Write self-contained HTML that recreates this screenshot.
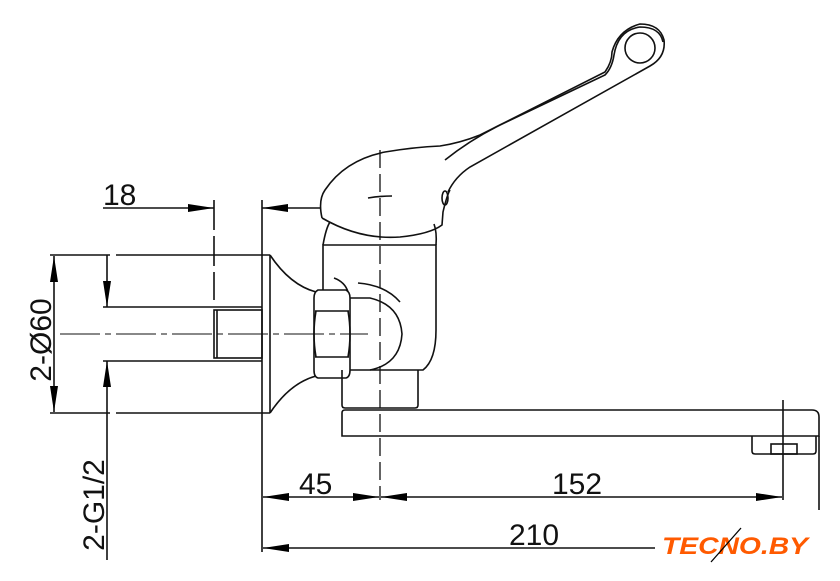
<!DOCTYPE html>
<html><head><meta charset="utf-8"><style>
html,body{margin:0;padding:0;background:#fff;}
svg{display:block}
text{font-family:"Liberation Sans",sans-serif;fill:#111}
</style></head><body>
<svg width="840" height="581" viewBox="0 0 840 581" xmlns="http://www.w3.org/2000/svg">
<defs>
<marker id="a" viewBox="0 0 26 8" refX="26" refY="4" markerWidth="26" markerHeight="8" markerUnits="userSpaceOnUse" orient="auto"><path d="M0,0 L26,4 L0,8 Z" fill="#000"/></marker>
</defs>
<g fill="none" stroke="#111" stroke-width="1.6">
<line x1="262" y1="200" x2="262" y2="552"/>
<line x1="214" y1="200" x2="214" y2="300" stroke-dasharray="30,6"/>
<line x1="103" y1="208" x2="214" y2="208" marker-end="url(#a)"/>
<line x1="320" y1="208" x2="262" y2="208" marker-end="url(#a)"/>
<line x1="50" y1="255" x2="270" y2="255" stroke-dasharray="60,6,220,0"/>
<line x1="50" y1="413" x2="270" y2="413" stroke-dasharray="60,6,220,0"/>
<line x1="103" y1="307" x2="262" y2="307"/>
<line x1="103" y1="361" x2="262" y2="361"/>
<rect x="214" y="310" width="48" height="48"/>
<line x1="217" y1="310" x2="217" y2="358"/>
<line x1="60" y1="334" x2="368" y2="334" stroke-dasharray="40,5,6,5" stroke-width="1.1"/>
<line x1="54" y1="334" x2="54" y2="256" marker-end="url(#a)"/>
<line x1="54" y1="334" x2="54" y2="412" marker-end="url(#a)"/>
<line x1="107" y1="255" x2="107" y2="307" marker-end="url(#a)"/>
<line x1="107" y1="560" x2="107" y2="361" marker-end="url(#a)"/>
<path d="M270,255 L270,413"/>
<path d="M270,255 Q290,285 316,292"/>
<path d="M270,413 Q290,383 316,376"/>
<path d="M318,290 L346,290 Q350,292 350,298 L350,370 Q350,377 346,378 L318,378 Q314,377 314,370 L314,298 Q314,292 318,290 Z"/>
<line x1="315" y1="311" x2="349" y2="311"/>
<line x1="315" y1="357" x2="349" y2="357"/>
<path d="M316,311 Q312,334 316,357 M348,311 Q352,334 348,357"/>
<path d="M350,370 L423,370 Q436,360 436,330 L436,245 L323,245 L323,290"/>
<path d="M323,245 Q326,228 330,222"/>
<path d="M436,245 Q437,232 434,224"/>
<path d="M350,298 L370,298 Q400,305 402,334 Q400,364 370,370"/>
<path d="M334,278 Q345,282 348,292"/>
<path d="M358,283 Q385,285 400,302"/>
<path d="M342,370 L342,405 Q342,408 345,408 L415,408 Q418,408 418,405 L418,370"/>
<path d="M322,218 Q360,240 400,237 Q430,234 442,225 L443,212 Q447,195 450,190"/>
<path d="M322,218 Q318,200 325,190 Q345,160 385,152 Q415,147 440,146 Q460,143 480,135 L605,72 Q612,62 612,52 Q618,30 640,24 Q660,24 664,40 Q666,57 650,66 L470,167 Q455,177 448,192"/>
<path d="M445,160 Q470,140 500,125 L605,75 Q612,68 614,55 Q618,30 640,27 Q660,27 663,42"/>
<circle cx="640" cy="48" r="15"/>
<ellipse cx="445" cy="198" rx="3" ry="7"/>
<path d="M368,198 Q380,196 392,196"/>
<path d="M345,410 L812,410 Q819,410 819,417 L819,436 L342,436 L342,413 Q342,410 345,410 Z"/>
<path d="M752,436 L752,451 Q752,454 755,454 L813,454 Q816,454 816,451 L816,436"/>
<rect x="771" y="444" width="26" height="10"/>
<line x1="380" y1="150" x2="380" y2="500" stroke-dasharray="18,6" stroke-width="1.3"/>
<line x1="783" y1="400" x2="783" y2="500"/>
<line x1="819" y1="436" x2="819" y2="510"/>
<line x1="320" y1="497" x2="263" y2="497" marker-end="url(#a)"/>
<line x1="320" y1="497" x2="379" y2="497" marker-end="url(#a)"/>
<line x1="580" y1="497" x2="381" y2="497" marker-end="url(#a)"/>
<line x1="580" y1="497" x2="782" y2="497" marker-end="url(#a)"/>
<line x1="655" y1="548" x2="263" y2="548" marker-end="url(#a)"/>
</g>
<text x="103" y="205" font-size="30">18</text>
<text x="299" y="494" font-size="30">45</text>
<text x="552" y="494" font-size="30">152</text>
<text x="509" y="545" font-size="30">210</text>
<text transform="translate(51,340) rotate(-90)" font-size="30" text-anchor="middle">2-Ø60</text>
<text transform="translate(104,505) rotate(-90)" font-size="30" text-anchor="middle">2-G1/2</text>
<text x="662" y="554" font-size="24" font-weight="bold" font-style="italic" style="fill:#ff5a00" textLength="146" lengthAdjust="spacingAndGlyphs">TECNO.BY</text>
<line x1="711" y1="562" x2="741" y2="528" stroke="#000" stroke-width="1.3"/>
</svg>
</body></html>
